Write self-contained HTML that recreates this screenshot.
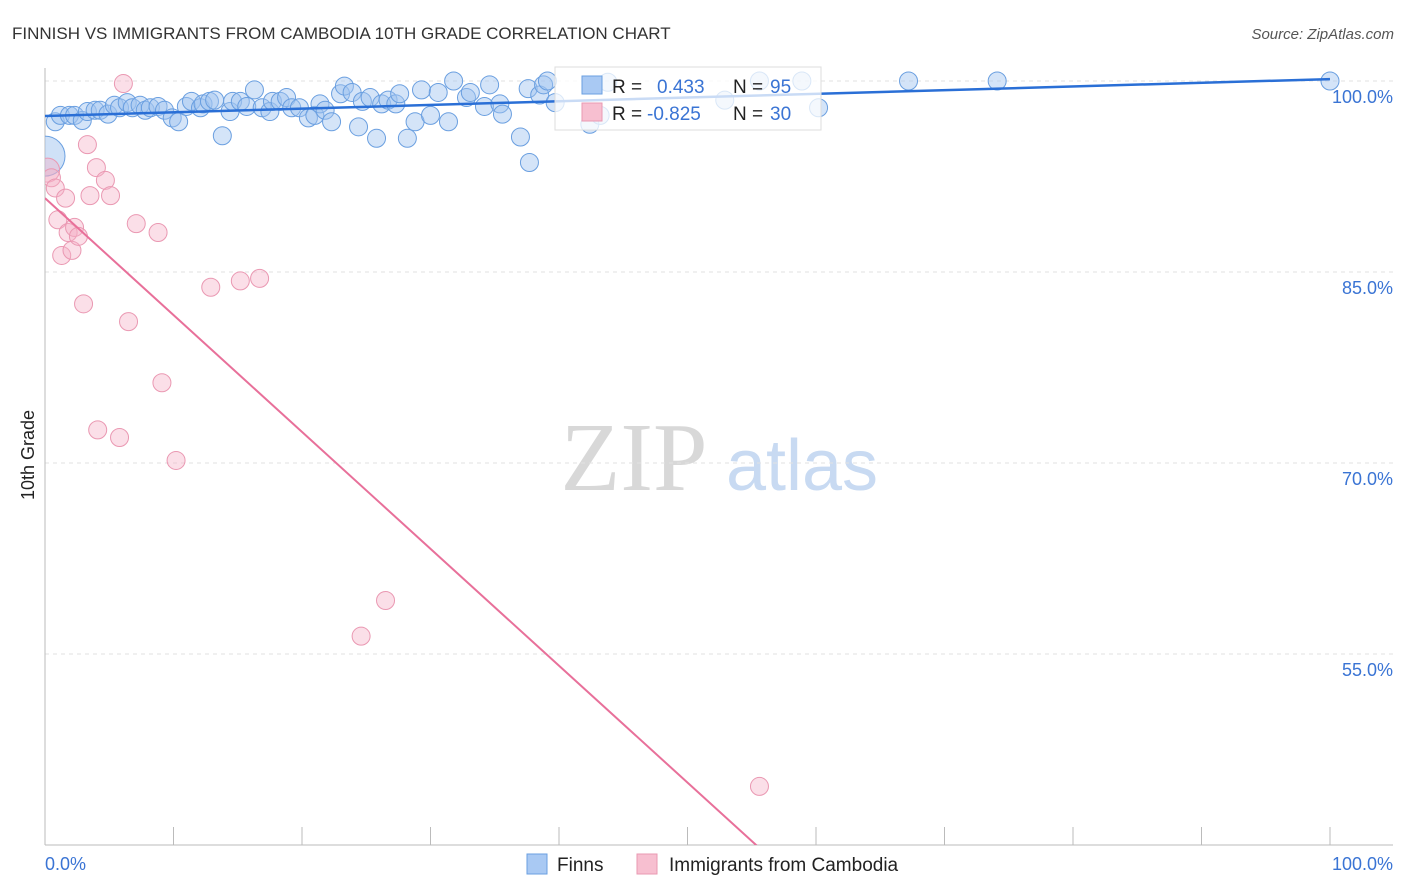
<!DOCTYPE html>
<html><head><meta charset="utf-8"><style>
html,body{margin:0;padding:0;background:#fff;font-family:"Liberation Sans",sans-serif;overflow:hidden;}
#wrap{position:relative;width:1406px;height:892px;overflow:hidden;}
svg{display:block;}
</style></head><body>
<div id="wrap">
<svg id="svg" width="1406" height="892" xmlns="http://www.w3.org/2000/svg">
<text x="12" y="39" font-size="17" fill="#333">FINNISH VS IMMIGRANTS FROM CAMBODIA 10TH GRADE CORRELATION CHART</text>
<text x="1394" y="39" font-size="15" fill="#555" font-style="italic" text-anchor="end">Source: ZipAtlas.com</text>
<text x="634" y="490" font-size="98" fill="#d8d8d8" font-family="Liberation Serif,serif" text-anchor="middle">ZIP</text>
<text x="802" y="490" font-size="72" fill="#c8daf2" text-anchor="middle">atlas</text>
<g id="grid"></g><g id="axes"></g>
<defs><clipPath id="pc"><rect x="45" y="60" width="1350" height="785"/></clipPath></defs>
<g id="marks" clip-path="url(#pc)"></g>
<text transform="translate(34,455) rotate(-90)" font-size="18" fill="#222" text-anchor="middle">10th Grade</text>
<g>
<rect x="555" y="67" width="266" height="63" fill="#fff" fill-opacity="0.75" stroke="#ddd"/>
<rect x="582" y="76" width="20" height="18" fill="#a9c9f3" stroke="#6a9fe0"/>
<text x="612" y="93" font-size="19" fill="#222">R = </text><text x="657" y="93" font-size="19" fill="#3a74d4">0.433</text>
<text x="733" y="93" font-size="19" fill="#222">N = </text><text x="770" y="93" font-size="19" fill="#3a74d4">95</text>
<rect x="582" y="103" width="20" height="18" fill="#f7bfd0" stroke="#ea98b2"/>
<text x="612" y="120" font-size="19" fill="#222">R = </text><text x="647" y="120" font-size="19" fill="#3a74d4">-0.825</text>
<text x="733" y="120" font-size="19" fill="#222">N = </text><text x="770" y="120" font-size="19" fill="#3a74d4">30</text>
</g>
<g>
<rect x="527" y="854" width="20" height="20" fill="#a9c9f3" stroke="#6a9fe0"/>
<text x="557" y="871" font-size="19" fill="#222">Finns</text>
<rect x="637" y="854" width="20" height="20" fill="#f7bfd0" stroke="#ea98b2"/>
<text x="669" y="871" font-size="19" fill="#222">Immigrants from Cambodia</text>
</g>
</svg>
</div>
<script>
const yTicks=[100,85,70,55];
const yTickLabels=["100.0%","85.0%","70.0%","55.0%"];
const xTickLabels=["0.0%","100.0%"];
const finnsX=[0.8,1.2,1.9,2.3,2.9,3.3,3.9,4.3,4.9,5.4,5.8,6.4,6.8,7.4,7.8,8.2,8.8,9.3,9.9,10.4,11.0,11.4,12.1,12.3,12.8,13.2,13.8,14.4,14.6,15.2,15.7,16.3,16.9,17.5,17.7,18.3,18.8,19.2,19.8,20.5,21.0,21.4,21.8,22.3,23.0,23.3,23.9,24.4,24.7,25.3,25.8,26.2,26.7,27.3,27.6,28.2,28.8,29.3,30.0,30.6,31.4,31.8,32.8,33.1,34.2,34.6,35.4,35.6,37.0,37.6,37.7,38.5,38.8,39.1,39.7,42.4,43.2,43.8,52.9,55.6,58.9,60.2,67.2,74.1,100];
const finnsY=[96.8,97.3,97.3,97.3,96.9,97.6,97.7,97.7,97.4,98.1,97.9,98.3,97.9,98.1,97.7,97.9,98.0,97.7,97.1,96.8,98.0,98.4,97.9,98.2,98.4,98.5,95.7,97.6,98.4,98.4,98.0,99.3,97.9,97.6,98.4,98.4,98.7,97.9,97.9,97.1,97.3,98.2,97.7,96.8,99.0,99.6,99.1,96.4,98.4,98.7,95.5,98.2,98.5,98.2,99.0,95.5,96.8,99.3,97.3,99.1,96.8,100,98.7,99.1,98.0,99.7,98.2,97.4,95.6,99.4,93.6,98.9,99.7,100,98.3,96.6,97.3,99.9,98.5,100,100,97.9,100,100,100];
const cambX=[6.1,0.2,0.5,0.8,1.6,1.0,1.3,1.8,2.1,2.3,2.6,3.0,3.3,3.5,4.0,4.1,4.7,5.1,5.8,6.5,7.1,8.8,9.1,10.2,12.9,15.2,16.7,24.6,26.5,55.6];
const cambY=[99.8,93.0,92.4,91.6,90.8,89.1,86.3,88.1,86.7,88.5,87.8,82.5,95.0,91.0,93.2,72.6,92.2,91.0,72.0,81.1,88.8,88.1,76.3,70.2,83.8,84.3,84.5,56.4,59.2,44.6];
const finnsTrend=[97.25,100.15];
const cambTrend=[90.8,-1.0];
const NS="http://www.w3.org/2000/svg";
const X0=45,X1=1330,Y100=81,PXP=12.733;
function sx(v){return X0+(X1-X0)*v/100;}
function sy(v){return Y100+(100-v)*PXP;}
function mk(tag,attrs,parent){const e=document.createElementNS(NS,tag);for(const k in attrs)e.setAttribute(k,attrs[k]);parent.appendChild(e);return e;}
const grid=document.getElementById('grid'),axes=document.getElementById('axes'),marks=document.getElementById('marks');
yTicks.forEach((t,i)=>{
 const l=mk('line',{x1:45,x2:1393,y1:sy(t),y2:sy(t),stroke:'#e2e2e2','stroke-dasharray':'4,4'},grid);
 
 
 const tx=mk('text',{x:1393,y:sy(t)+22,'font-size':18,fill:'#3a74d4','text-anchor':'end'},axes);
 tx.textContent=yTickLabels[i];
 
 
});
const ax=mk('line',{x1:45,x2:1393,y1:845,y2:845,stroke:'#bbb'},axes);


const ay=mk('line',{x1:45,x2:45,y1:68,y2:845,stroke:'#bbb'},axes);


for(let i=0;i<=10;i++){
 const t=mk('line',{x1:sx(i*10),x2:sx(i*10),y1:827,y2:845,stroke:'#bbb'},axes);
 
 
}
const xl0=mk('text',{x:45,y:870,'font-size':18,fill:'#3a74d4'},axes);xl0.textContent=xTickLabels[0];


const xl1=mk('text',{x:1393,y:870,'font-size':18,fill:'#3a74d4','text-anchor':'end'},axes);xl1.textContent=xTickLabels[1];


const bb=mk('circle',{cx:sx(0),cy:sy(94.1),r:20,fill:'rgba(160,196,240,0.5)',stroke:'#6a9fe0','stroke-width':1},marks);


finnsX.forEach((x,i)=>{
 const c=mk('circle',{cx:sx(x),cy:sy(finnsY[i]),r:9,fill:'rgba(160,196,240,0.45)',stroke:'#6a9fe0','stroke-width':1},marks);
 
 
});
cambX.forEach((x,i)=>{
 const c=mk('circle',{cx:sx(x),cy:sy(cambY[i]),r:i==1?12:9,fill:'rgba(245,175,198,0.4)',stroke:'#ea98b2','stroke-width':1},marks);
 
 
});
const fl=mk('line',{x1:sx(0),y1:sy(finnsTrend[0]),x2:sx(100),y2:sy(finnsTrend[1]),stroke:'#2a6fd6','stroke-width':2.5},marks);


const cl=mk('line',{x1:sx(0),y1:sy(cambTrend[0]),x2:sx(100),y2:sy(cambTrend[1]),stroke:'#e8709a','stroke-width':2},marks);


</script>
</body></html>
